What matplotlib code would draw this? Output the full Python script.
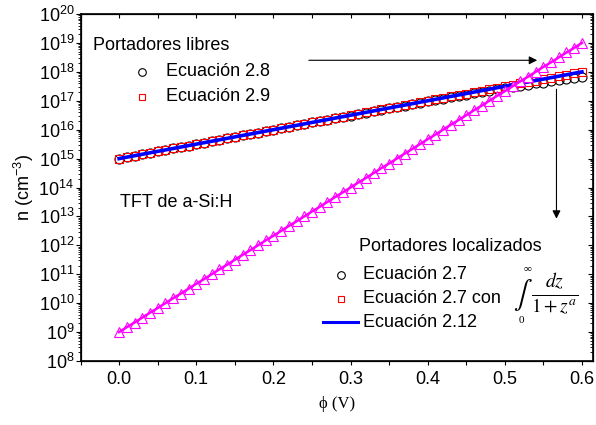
import numpy as np
import matplotlib.pyplot as plt
from matplotlib.ticker import LogLocator, MultipleLocator, NullFormatter

plt.rcParams['font.family'] = ['Liberation Sans', 'DejaVu Sans']
plt.rcParams['mathtext.fontset'] = 'custom'
plt.rcParams['mathtext.rm'] = 'Liberation Sans'
plt.rcParams['mathtext.it'] = 'Liberation Sans:italic'
plt.rcParams['mathtext.bf'] = 'Liberation Sans:bold'

# potencial phi (V)
phi = [0.00, 0.01, 0.02, 0.03, 0.04, 0.05, 0.06, 0.07, 0.08, 0.09,
       0.10, 0.11, 0.12, 0.13, 0.14, 0.15, 0.16, 0.17, 0.18, 0.19,
       0.20, 0.21, 0.22, 0.23, 0.24, 0.25, 0.26, 0.27, 0.28, 0.29,
       0.30, 0.31, 0.32, 0.33, 0.34, 0.35, 0.36, 0.37, 0.38, 0.39,
       0.40, 0.41, 0.42, 0.43, 0.44, 0.45, 0.46, 0.47, 0.48, 0.49,
       0.50, 0.51, 0.52, 0.53, 0.54, 0.55, 0.56, 0.57, 0.58, 0.59,
       0.60]

# portadores libres, log10(n)
log_n_eq28 = [15.00, 15.05, 15.10, 15.15, 15.20, 15.25, 15.30, 15.35, 15.40, 15.45,
              15.50, 15.55, 15.60, 15.65, 15.70, 15.75, 15.80, 15.85, 15.90, 15.95,
              16.00, 16.05, 16.10, 16.15, 16.20, 16.25, 16.29, 16.34, 16.39, 16.44,
              16.49, 16.54, 16.59, 16.64, 16.69, 16.74, 16.78, 16.83, 16.88, 16.93,
              16.98, 17.02, 17.07, 17.12, 17.16, 17.21, 17.26, 17.30, 17.35, 17.39,
              17.43, 17.47, 17.52, 17.56, 17.60, 17.63, 17.67, 17.71, 17.75, 17.78,
              17.81]

log_n_eq29 = [15.00, 15.05, 15.10, 15.15, 15.20, 15.25, 15.30, 15.35, 15.40, 15.45,
              15.50, 15.55, 15.60, 15.65, 15.70, 15.75, 15.80, 15.85, 15.90, 15.95,
              16.00, 16.05, 16.10, 16.15, 16.20, 16.25, 16.30, 16.35, 16.40, 16.45,
              16.50, 16.55, 16.60, 16.65, 16.70, 16.75, 16.80, 16.85, 16.90, 16.95,
              17.00, 17.05, 17.10, 17.15, 17.20, 17.25, 17.30, 17.35, 17.40, 17.45,
              17.50, 17.55, 17.60, 17.65, 17.70, 17.75, 17.80, 17.85, 17.90, 17.95,
              18.00]

log_n_eq212 = log_n_eq29

# portadores localizados, log10(n)
log_n_loc = [9.00, 9.17, 9.33, 9.50, 9.67, 9.83,
             10.00, 10.17, 10.33, 10.50, 10.67, 10.83,
             11.00, 11.17, 11.33, 11.50, 11.67, 11.83,
             12.00, 12.17, 12.33, 12.50, 12.67, 12.83,
             13.00, 13.17, 13.33, 13.50, 13.67, 13.83,
             14.00, 14.17, 14.33, 14.50, 14.67, 14.83,
             15.00, 15.17, 15.33, 15.50, 15.67, 15.83,
             16.00, 16.17, 16.33, 16.50, 16.67, 16.83,
             17.00, 17.17, 17.33, 17.50, 17.67, 17.83,
             18.00, 18.17, 18.33, 18.50, 18.67, 18.83,
             19.00]

x_ticks = [0.0, 0.1, 0.2, 0.3, 0.4, 0.5, 0.6]
x_labels = ['0.0', '0.1', '0.2', '0.3', '0.4', '0.5', '0.6']

fs = 13

fig = plt.figure(figsize=(5.96, 4.25), dpi=100)
ax = fig.add_axes([0.1351, 0.1506, 0.8607, 0.8164])

ax.plot(phi, 10**np.array(log_n_eq28), 'o', ms=6.5, mfc='none', mec='black', mew=0.8)
ax.plot(phi, 10**np.array(log_n_eq29), 's', ms=5.5, mfc='none', mec='red', mew=0.8)
ax.plot(phi, 10**np.array(log_n_eq212), '-', color='blue', lw=2.6)
ax.plot(phi, 10**np.array(log_n_loc), '^', ms=7, mfc='white', mec='magenta', mew=0.8)
ax.plot(phi, 10**np.array(log_n_loc), '-', color='magenta', lw=1.8)

ax.set_yscale('log')
ax.set_ylim(1e8, 1e20)
ax.set_xlim(-0.05, 0.615)
ax.set_xticks(x_ticks)
ax.set_xticklabels(x_labels)
ax.xaxis.set_minor_locator(MultipleLocator(0.05))
ax.yaxis.set_major_locator(LogLocator(base=10, numticks=20))
ax.yaxis.set_minor_locator(LogLocator(base=10, subs=np.arange(2, 10), numticks=200))
ax.yaxis.set_minor_formatter(NullFormatter())

ax.tick_params(axis='x', which='both', direction='out', length=3, width=0.8, labelsize=fs, pad=4)
ax.tick_params(axis='y', which='major', direction='out', length=3.5, width=0.8, labelsize=fs, pad=1)
ax.tick_params(axis='y', which='minor', direction='out', length=2, width=0.6)
for s in ax.spines.values():
    s.set_linewidth(1.2)

# ticks hacia dentro arriba y a la derecha
axr = ax.twinx()
axr.set_yscale('log')
axr.set_ylim(1e8, 1e20)
axr.yaxis.set_major_locator(LogLocator(base=10, numticks=20))
axr.yaxis.set_minor_locator(LogLocator(base=10, subs=np.arange(2, 10), numticks=200))
axr.tick_params(axis='y', which='major', direction='in', length=3.5, width=0.8, labelright=False)
axr.tick_params(axis='y', which='minor', direction='in', length=2, width=0.6)
axt = ax.twiny()
axt.set_xlim(-0.05, 0.615)
axt.set_xticks(x_ticks)
axt.xaxis.set_minor_locator(MultipleLocator(0.05))
axt.tick_params(axis='x', which='both', direction='in', length=3, width=0.8, labeltop=False)

ax.set_xlabel('ϕ (V)', family=['Liberation Serif', 'DejaVu Serif'], fontsize=12, labelpad=6)
ax.set_ylabel('n (cm$^{-3}$)', fontsize=fs, labelpad=2)

# flechas
ax.annotate('', xy=(0.542, 10**18.40), xytext=(0.246, 10**18.40),
            arrowprops=dict(arrowstyle='-|>', color='black', lw=0.8, mutation_scale=12,
                            shrinkA=0, shrinkB=0))
ax.annotate('', xy=(0.567, 10**12.92), xytext=(0.567, 10**17.40),
            arrowprops=dict(arrowstyle='-|>', color='black', lw=0.8, mutation_scale=12,
                            shrinkA=0, shrinkB=0))

tr = ax.transAxes
ax.text(0.024, 0.908, 'Portadores libres', transform=tr, fontsize=fs, va='center')
ax.plot([0.120], [0.833], 'o', ms=5.5, mfc='none', mec='black', mew=0.8, transform=tr, clip_on=False)
ax.text(0.167, 0.833, 'Ecuación 2.8', transform=tr, fontsize=fs, va='center')
ax.plot([0.120], [0.761], 's', ms=4.5, mfc='none', mec='red', mew=0.8, transform=tr, clip_on=False)
ax.text(0.167, 0.761, 'Ecuación 2.9', transform=tr, fontsize=fs, va='center')

ax.text(0.077, 0.458, 'TFT de a-Si:H', transform=tr, fontsize=fs, va='center')

ax.text(0.543, 0.329, 'Portadores localizados', transform=tr, fontsize=fs, va='center')
ax.plot([0.508], [0.248], 'o', ms=5.5, mfc='none', mec='black', mew=0.8, transform=tr, clip_on=False)
ax.text(0.551, 0.248, 'Ecuación 2.7', transform=tr, fontsize=fs, va='center')
ax.plot([0.508], [0.179], 's', ms=4.5, mfc='none', mec='red', mew=0.8, transform=tr, clip_on=False)
ax.text(0.551, 0.179, 'Ecuación 2.7 con', transform=tr, fontsize=fs, va='center')
ax.plot([0.473, 0.541], [0.112, 0.112], '-', color='blue', lw=2.2, transform=tr, clip_on=False)
ax.text(0.551, 0.112, 'Ecuación 2.12', transform=tr, fontsize=fs, va='center')

# integral en la leyenda
ax.text(0.862, 0.190, r'$\int$', transform=tr, fontsize=20, ha='center', va='center',
        math_fontfamily='stix')
ax.text(0.871, 0.266, '∞', transform=tr, fontsize=8, ha='center', va='center',
        family=['Liberation Serif', 'DejaVu Serif'])
ax.text(0.860, 0.116, '0', transform=tr, fontsize=8, ha='center', va='center',
        family=['Liberation Serif', 'DejaVu Serif'])
ax.text(0.879, 0.193, r'$\frac{dz}{1+z^a}$', transform=tr, fontsize=20, ha='left', va='center',
        math_fontfamily='stix')

fig.savefig('out.png', dpi=100)
